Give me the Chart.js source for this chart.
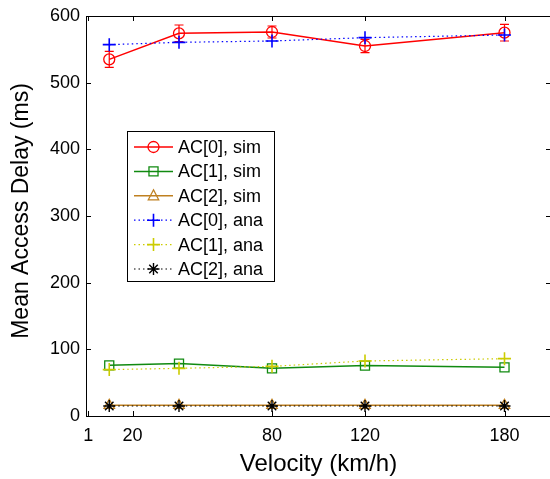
<!DOCTYPE html>
<html><head><meta charset="utf-8">
<script src="https://cdn.jsdelivr.net/npm/chart.js@4/dist/chart.umd.min.js"></script>
<style>html,body{margin:0;padding:0;background:#fff;overflow:hidden;width:550px;height:479px}canvas{display:block}</style>
</head><body>
<canvas id="c" width="551" height="479"></canvas>
<script>
// ---- data ----
const velocity   = [10, 40, 80, 120, 180];
const ac0Sim     = [535, 574, 576, 555, 575];
const ac0SimErr  = [12, 12.5, 9, 10, 12.5];
const ac1Sim     = [76, 78.6, 71.5, 75.6, 73];
const ac2Sim     = [16, 16, 16, 16, 16];
const ac0Ana     = [557, 560.5, 562.5, 567.5, 571.5];
const ac1Ana     = [69.6, 71.5, 74.5, 82.5, 86];
const ac2Ana     = [15, 15, 15, 15, 15];
const xTicks     = [1, 20, 80, 120, 180];
const yTicks     = [0, 100, 200, 300, 400, 500, 600];
const seriesLabels = ['AC[0], sim', 'AC[1], sim', 'AC[2], sim', 'AC[0], ana', 'AC[1], ana', 'AC[2], ana'];
const xTitle = 'Velocity (km/h)';
const yTitle = 'Mean Access Delay (ms)';

const FONT = 'Liberation Sans, Arial, Helvetica, sans-serif';
Chart.defaults.font.family = FONT;
Chart.defaults.color = '#000';

const styles = [
  {color:'#ff0000', shape:'circle',   r:5.5, dash:[],      lw:1.5, pw:1.3},
  {color:'#108a10', shape:'rect',     r:6.4, dash:[],      lw:1.5, pw:1.3},
  {color:'#bf8020', shape:'triangle', r:6,   dash:[],      lw:1.5, pw:1.3},
  {color:'#0000ff', shape:'cross',    r:6.5, dash:[1.5,3], lw:1.2, pw:1.6},
  {color:'#cccc00', shape:'cross',    r:6.5, dash:[1.5,3], lw:1.2, pw:1.6},
  {color:'#000000', shape:'star',     r:6,   dash:[1.5,3], lw:1.2, pw:1.4},
];
const seriesValues = [ac0Sim, ac1Sim, ac2Sim, ac0Ana, ac1Ana, ac2Ana];

const datasets = seriesValues.map((vals, k) => ({
  label: seriesLabels[k],
  data: velocity.map((v, i) => ({x: v, y: vals[i]})),
  borderColor: styles[k].color,
  backgroundColor: 'rgba(0,0,0,0)',
  borderWidth: styles[k].lw,
  borderDash: styles[k].dash,
  pointStyle: styles[k].shape,
  pointRadius: styles[k].r,
  pointBorderWidth: styles[k].pw,
  pointBorderColor: styles[k].color,
  pointBackgroundColor: 'rgba(0,0,0,0)',
  fill: false,
  tension: 0,
  order: k < 3 ? 2 : 1
}));

function drawMarker(ctx, shape, x, y, r) {
  ctx.beginPath();
  if (shape === 'circle') { ctx.arc(x, y, r, 0, Math.PI*2); }
  else if (shape === 'rect') { const s = r*Math.SQRT1_2; ctx.rect(x-s, y-s, 2*s, 2*s); }
  else if (shape === 'triangle') {
    ctx.moveTo(x, y - r); ctx.lineTo(x + r*0.866, y + r*0.5 + 1); ctx.lineTo(x - r*0.866, y + r*0.5 + 1); ctx.closePath();
  }
  else if (shape === 'cross') { ctx.moveTo(x-r, y); ctx.lineTo(x+r, y); ctx.moveTo(x, y-r); ctx.lineTo(x, y+r); }
  else if (shape === 'star') {
    ctx.moveTo(x-r, y); ctx.lineTo(x+r, y); ctx.moveTo(x, y-r); ctx.lineTo(x, y+r);
    const d = r*Math.SQRT1_2;
    ctx.moveTo(x-d, y-d); ctx.lineTo(x+d, y+d); ctx.moveTo(x-d, y+d); ctx.lineTo(x+d, y-d);
  }
  ctx.stroke();
}

const decorPlugin = {
  id: 'decor',
  afterDatasetDraw(chart, args) {
    if (args.index !== 0) return;
    const ctx = chart.ctx, xs = chart.scales.x, ys = chart.scales.y;
    ctx.save();
    ctx.strokeStyle = styles[0].color; ctx.lineWidth = 1.2; ctx.setLineDash([]);
    velocity.forEach((v, i) => {
      const x = xs.getPixelForValue(v);
      const yt = ys.getPixelForValue(ac0Sim[i] + ac0SimErr[i]);
      const yb = ys.getPixelForValue(ac0Sim[i] - ac0SimErr[i]);
      ctx.beginPath();
      ctx.moveTo(x, yt); ctx.lineTo(x, yb);
      ctx.moveTo(x-4.5, yt); ctx.lineTo(x+4.5, yt);
      ctx.moveTo(x-4.5, yb); ctx.lineTo(x+4.5, yb);
      ctx.stroke();
    });
    ctx.restore();
  },
  afterDraw(chart) {
    const ctx = chart.ctx, a = chart.chartArea, xs = chart.scales.x, ys = chart.scales.y;
    ctx.save();
    ctx.strokeStyle = '#000'; ctx.lineWidth = 1; ctx.setLineDash([]);
    // frame
    ctx.beginPath();
    ctx.rect(Math.round(a.left)+0.5, Math.round(a.top)+0.5, Math.round(a.right)-Math.round(a.left), Math.round(a.bottom)-Math.round(a.top));
    ctx.stroke();
    // inward ticks
    const T = 5;
    ctx.beginPath();
    xTicks.forEach(v => {
      const x = Math.round(xs.getPixelForValue(v)) + 0.5;
      ctx.moveTo(x, a.bottom); ctx.lineTo(x, a.bottom - T);
      ctx.moveTo(x, a.top); ctx.lineTo(x, a.top + T);
    });
    yTicks.forEach(v => {
      const y = Math.round(ys.getPixelForValue(v)) + 0.5;
      ctx.moveTo(a.left, y); ctx.lineTo(a.left + T, y);
      ctx.moveTo(a.right, y); ctx.lineTo(a.right - T, y);
    });
    ctx.stroke();

    // y-axis title
    ctx.save();
    ctx.translate(22, 211);
    ctx.rotate(-Math.PI/2);
    ctx.font = '23px ' + FONT;
    ctx.fillStyle = '#000';
    ctx.textAlign = 'center'; ctx.textBaseline = 'middle';
    ctx.fillText(yTitle, 0, 0);
    ctx.restore();

    // legend
    const bx = 127.5, by = 131.5, bw = 147, bh = 150;
    ctx.fillStyle = '#fff';
    ctx.fillRect(bx, by, bw, bh);
    ctx.strokeStyle = '#000'; ctx.lineWidth = 1;
    ctx.strokeRect(bx, by, bw, bh);
    ctx.font = '18px ' + FONT;
    ctx.textBaseline = 'middle'; ctx.textAlign = 'left';
    seriesLabels.forEach((lab, k) => {
      const y = 147 + k*24.4;
      const st = styles[k];
      ctx.strokeStyle = st.color; ctx.lineWidth = st.lw; ctx.setLineDash(st.dash);
      ctx.beginPath(); ctx.moveTo(134, y); ctx.lineTo(173, y); ctx.stroke();
      ctx.setLineDash([]); ctx.lineWidth = st.pw;
      drawMarker(ctx, st.shape, 153.5, y, st.r);
      ctx.fillStyle = '#000';
      ctx.fillText(lab, 178, y + 1);
    });
    ctx.restore();
  }
};

new Chart(document.getElementById('c'), {
  type: 'line',
  data: { datasets },
  options: {
    responsive: false,
    animation: false,
    layout: { autoPadding: false, padding: { left: 7, top: 16, right: 0, bottom: -1 } },
    plugins: { legend: { display: false }, tooltip: { enabled: false } },
    scales: {
      x: {
        type: 'linear', min: 0, max: 200,
        afterBuildTicks: s => { s.ticks = xTicks.map(v => ({value: v})); },
        afterFit: s => { s.height = 64; s.paddingLeft = 0; s.paddingRight = 0; },
        grid: { display: false, drawTicks: false },
        border: { display: false },
        ticks: { font: { size: 18 }, color: '#000', padding: 9, maxRotation: 0, autoSkip: false, callback: v => String(v) },
        title: { display: true, text: xTitle, font: { size: 24, lineHeight: 1.0 }, color: '#000' }
      },
      y: {
        type: 'linear', min: 0, max: 600,
        afterBuildTicks: s => { s.ticks = yTicks.map(v => ({value: v})); },
        afterFit: s => { s.width = 79; s.paddingTop = 0; s.paddingBottom = 0; },
        grid: { display: false, drawTicks: false },
        border: { display: false },
        ticks: { font: { size: 18 }, color: '#000', padding: 6, callback: v => String(v) },
        title: { display: false }
      }
    }
  },
  plugins: [decorPlugin]
});
</script>
</body></html>
